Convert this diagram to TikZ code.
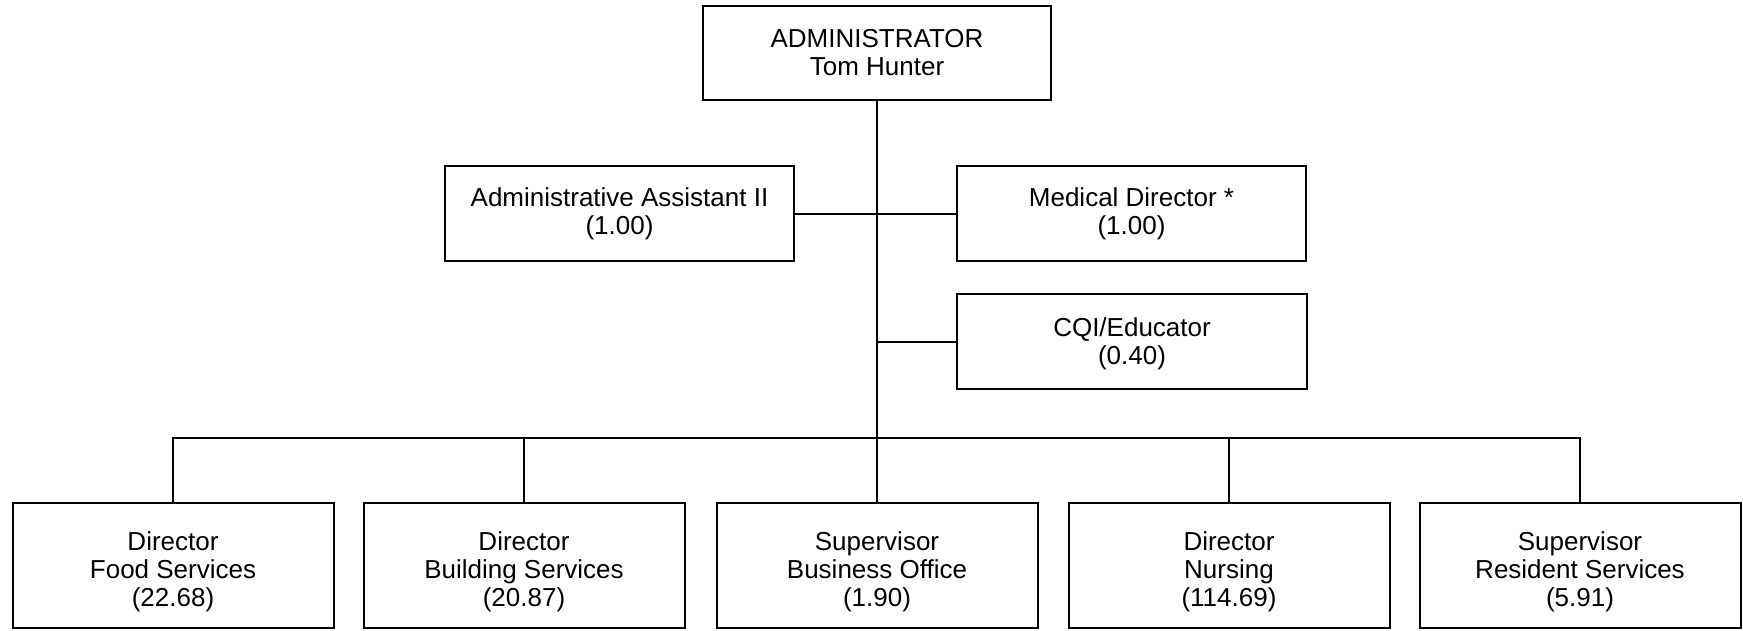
\documentclass[tikz,border=0pt]{standalone}
\usepackage{fontspec}
\setmainfont{Liberation Sans}
\begin{document}
\begin{tikzpicture}[x=1pt,y=-1pt,
  box/.style={draw, line width=2pt, align=center, inner sep=0pt,
    font=\fontsize{26}{28}\selectfont},
  topbox/.style={box, minimum width=348pt, minimum height=94pt},
  midbox/.style={box, minimum width=349pt, minimum height=95pt},
  cqibox/.style={box, minimum width=350pt, minimum height=95pt},
  lowbox/.style={box, minimum width=321pt, minimum height=125pt},
  conn/.style={line width=2pt}]
\useasboundingbox (0,0) rectangle (1743,630);
\node[topbox] (admin) at (877,53) {ADMINISTRATOR\\Tom Hunter};
\node[midbox] (asst) at (619.5,213.5) {Administrative Assistant II\\(1.00)};
\node[midbox] (med) at (1131.5,213.5) {Medical Director *\\(1.00)};
\node[cqibox] (cqi) at (1132,341.5) {\rule{0pt}{24pt}CQI/Educator\\(0.40)};
\node[lowbox] (b1) at (173,565.5) {\rule{0pt}{31pt}Director\\Food Services\\(22.68)};
\node[lowbox] (b2) at (524,565.5) {\rule{0pt}{31pt}Director\\Building Services\\(20.87)};
\node[lowbox] (b3) at (877,565.5) {\rule{0pt}{31pt}Supervisor\\Business Office\\(1.90)};
\node[lowbox] (b4) at (1229,565.5) {\rule{0pt}{31pt}Director\\Nursing\\(114.69)};
\node[lowbox] (b5) at (1580,565.5) {\rule{0pt}{31pt}Supervisor\\Resident Services\\(5.91)};
\coordinate (bus) at (877,438);
\draw[conn] (admin.south) -- (bus);
\draw[conn] (asst.east) -- (med.west);
\draw[conn] (cqi.west) -- (cqi.west -| admin.south);
\draw[conn] (b1.north) -- (b1.north |- bus) -- (b5.north |- bus) -- (b5.north);
\draw[conn] (b2.north) -- (b2.north |- bus);
\draw[conn] (b3.north) -- (bus);
\draw[conn] (b4.north) -- (b4.north |- bus);
\end{tikzpicture}
\end{document}
